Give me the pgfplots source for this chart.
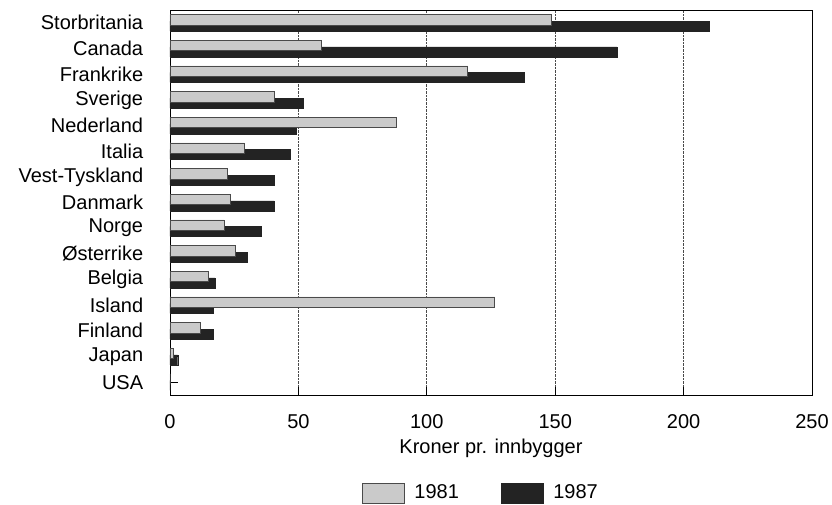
\documentclass[border=0pt]{standalone}
\usepackage{pgfplots}
\pgfplotsset{compat=1.18}
\usetikzlibrary{calc}
\usepackage{fontspec}
\setmainfont{Liberation Sans}

\definecolor{darkbar}{HTML}{232323}
\definecolor{lightbar}{HTML}{CACACA}
\definecolor{edgegray}{HTML}{4A4A4A}

\begin{document}
\begin{tikzpicture}
\fontsize{20bp}{24bp}\selectfont
\begin{axis}[
  scale only axis, width=642bp, height=385bp,
  xmin=0, xmax=250, ymin=-0.5, ymax=14.5,
  xbar, bar width=10.5bp,
  xtick={0,50,100,150,200,250},
  ytick={0,...,14},
  yticklabels={USA,Japan,Finland,Island,Belgia,{\O}sterrike,Norge,Danmark,Vest-Tyskland,Italia,Nederland,Sverige,Frankrike,Canada,Storbritania},
  tick pos=left, tick align=inside, xtick align=inside, ytick align=inside,
  major tick length=8bp,
  xmajorgrids, grid style={densely dotted, edgegray, line width=0.8bp},
  axis line style={black, line width=0.8bp},
  tick style={black, line width=0.8bp},
  /pgf/number format/assume math mode=true,
  ticklabel style={font=\fontsize{20bp}{24bp}\selectfont},
  xticklabel style={yshift=-13bp},
  yticklabel style={xshift=-20bp},
  xlabel={Kroner pr. innbygger},
  xlabel style={font=\fontsize{20bp}{24bp}\selectfont, yshift=4bp},
  legend style={draw=none, fill=none, legend columns=2, font=\fontsize{20bp}{24bp}\selectfont,
    at={(rel axis cs:0.484,0)}, anchor=center, yshift=-98bp,
    /tikz/every even column/.append style={column sep=40bp}},
  legend image code/.code={\draw[#1] (0bp,-10bp) rectangle (42bp,10bp); \path (50bp,0bp);},
]
\addplot[forget plot, draw=darkbar, fill=darkbar, bar shift=-3.3bp, bar width=10bp] coordinates {
(210,14) (174,13) (138,12) (52,11) (49,10) (47,9) (40.5,8) (40.5,7)
(35.5,6) (30,5) (17.5,4) (17,3) (17,2) (3,1) (0,0)
};
\addplot[forget plot, draw=edgegray, fill=lightbar, line width=0.8bp, bar shift=3bp] coordinates {
(148.5,14) (59,13) (116,12) (40.5,11) (88,10) (29,9) (22.5,8) (23.5,7)
(21,6) (25.5,5) (15,4) (126.5,3) (12,2) (1.5,1) (0,0)
};
\addlegendimage{draw=edgegray, fill=lightbar, line width=0.8bp}
\addlegendentry{1981}
\addlegendimage{draw=darkbar, fill=darkbar}
\addlegendentry{1987}
\coordinate (bl) at (rel axis cs:0,0);
\coordinate (tr) at (rel axis cs:1,1);
\end{axis}
\pgfresetboundingbox
\path ($(bl)+(-170bp,-110bp)$) rectangle ($(tr)+(20bp,10bp)$);
\end{tikzpicture}
\end{document}
